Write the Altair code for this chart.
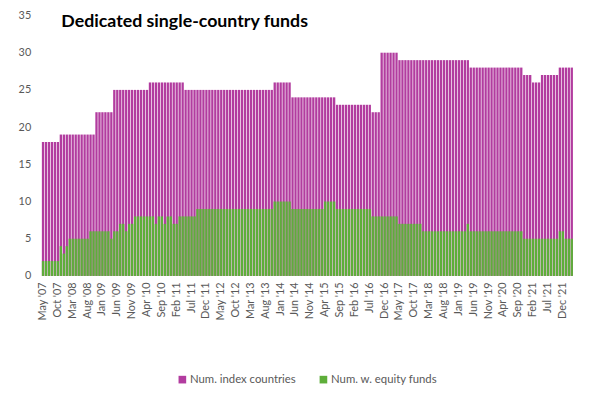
import altair as alt
import pandas as pd

TITLE = "Dedicated single-country funds"
SERIES = ["Num. index countries", "Num. w. equity funds"]
COLORS = ["#B23C9F", "#5EAE3A"]

# Months May 2007 .. Mar 2022
MONTH_NAMES = ["Jan", "Feb", "Mar", "Apr", "May", "Jun", "Jul", "Aug", "Sep", "Oct", "Nov", "Dec"]
months = []
y, m = 2007, 5
while (y, m) <= (2022, 3):
    months.append(f"{MONTH_NAMES[m-1]} '{str(y)[2:]}")
    m += 1
    if m > 12:
        m, y = 1, y + 1

tick_labels = months[::5]

index_countries = [
    18, 18, 18, 18, 18, 18, 19, 19,                      # 2007
    19, 19, 19, 19, 19, 19, 19, 19, 19, 19, 22, 22,      # 2008
    22, 22, 22, 22, 25, 25, 25, 25, 25, 25, 25, 25,      # 2009
    25, 25, 25, 25, 26, 26, 26, 26, 26, 26, 26, 26,      # 2010
    26, 26, 26, 26, 25, 25, 25, 25, 25, 25, 25, 25,      # 2011
    25, 25, 25, 25, 25, 25, 25, 25, 25, 25, 25, 25,      # 2012
    25, 25, 25, 25, 25, 25, 25, 25, 25, 25, 26, 26,      # 2013
    26, 26, 26, 26, 24, 24, 24, 24, 24, 24, 24, 24,      # 2014
    24, 24, 24, 24, 24, 24, 24, 23, 23, 23, 23, 23,      # 2015
    23, 23, 23, 23, 23, 23, 23, 22, 22, 22, 30, 30,      # 2016
    30, 30, 30, 30, 29, 29, 29, 29, 29, 29, 29, 29,      # 2017
    29, 29, 29, 29, 29, 29, 29, 29, 29, 29, 29, 29,      # 2018
    29, 29, 29, 29, 28, 28, 28, 28, 28, 28, 28, 28,      # 2019
    28, 28, 28, 28, 28, 28, 28, 28, 28, 28, 27, 27,      # 2020
    27, 26, 26, 26, 27, 27, 27, 27, 27, 27, 28, 28,      # 2021
    28, 28, 28,                                          # 2022
]

equity_funds = [
    2, 2, 2, 2, 2, 2, 4, 3,                              # 2007
    4, 5, 5, 5, 5, 5, 5, 5, 6, 6, 6, 6,                  # 2008
    6, 6, 6, 5, 6, 6, 7, 7, 6, 7, 7, 8,                  # 2009
    8, 8, 8, 8, 8, 8, 7, 8, 8, 7, 8, 8,                  # 2010
    7, 7, 8, 8, 8, 8, 8, 8, 9, 9, 9, 9,                  # 2011
    9, 9, 9, 9, 9, 9, 9, 9, 9, 9, 9, 9,                  # 2012
    9, 9, 9, 9, 9, 9, 9, 9, 9, 9, 10, 10,                # 2013
    10, 10, 10, 10, 9, 9, 9, 9, 9, 9, 9, 9,              # 2014
    9, 9, 9, 10, 10, 10, 10, 9, 9, 9, 9, 9,              # 2015
    9, 9, 9, 9, 9, 9, 9, 8, 8, 8, 8, 8,                  # 2016
    8, 8, 8, 8, 7, 7, 7, 7, 7, 7, 7, 7,                  # 2017
    6, 6, 6, 6, 6, 6, 6, 6, 6, 6, 6, 6,                  # 2018
    6, 6, 6, 7, 6, 6, 6, 6, 6, 6, 6, 6,                  # 2019
    6, 6, 6, 6, 6, 6, 6, 6, 6, 6, 5, 5,                  # 2020
    5, 5, 5, 5, 5, 5, 5, 5, 5, 5, 6, 6,                  # 2021
    5, 5, 5,                                             # 2022
]

df = pd.DataFrame({
    "month": months * 2,
    "series": [SERIES[0]] * len(months) + [SERIES[1]] * len(months),
    "value": index_countries + equity_funds,
})

FONT = "Lato"
GREY = "#595959"

x = alt.X(
    "month:O", sort=months, title=None,
    scale=alt.Scale(paddingInner=0.22, paddingOuter=0.11),
    axis=alt.Axis(values=tick_labels, labelAngle=-90, labelFontSize=11, labelFont=FONT,
                  labelColor=GREY, ticks=False, domain=False, labelPadding=6),
)
yenc = alt.Y(
    "value:Q", title=None, stack=None,
    scale=alt.Scale(domain=[0, 35], nice=False),
    axis=alt.Axis(values=list(range(0, 36, 5)), grid=False, ticks=False, domain=False,
                  labelFontSize=11, labelFont=FONT, labelColor=GREY, labelPadding=11),
)
color = alt.Color(
    "series:N", title=None,
    scale=alt.Scale(domain=SERIES, range=COLORS),
    legend=alt.Legend(orient="none", legendX=137, legendY=363, direction="horizontal",
                      symbolType="square", symbolSize=60, symbolStrokeWidth=0,
                      labelFontSize=11.5, labelFont=FONT, labelColor=GREY,
                      columnPadding=22, symbolOffset=0, labelOffset=2),
)

base = alt.Chart(df)
bars_index = base.transform_filter(alt.datum.series == SERIES[0]).mark_bar().encode(x=x, y=yenc, color=color)
bars_eq = base.transform_filter(alt.datum.series == SERIES[1]).mark_bar().encode(x=x, y=yenc, color=color)

title = alt.Chart(pd.DataFrame({"t": [TITLE]})).mark_text(
    align="left", baseline="alphabetic", fontSize=18, fontWeight="bold", font=FONT, color="#000000"
).encode(text="t:N", x=alt.value(20), y=alt.value(12))

chart = alt.layer(bars_index, bars_eq, title).properties(
    width=539, height=264,
    autosize=alt.AutoSizeParams(type="none"),
    padding={"left": 34, "top": 5, "right": 19, "bottom": 110},
).configure_view(stroke=None)

chart.save("out.html", embed_options={"renderer": "svg", "actions": False})
